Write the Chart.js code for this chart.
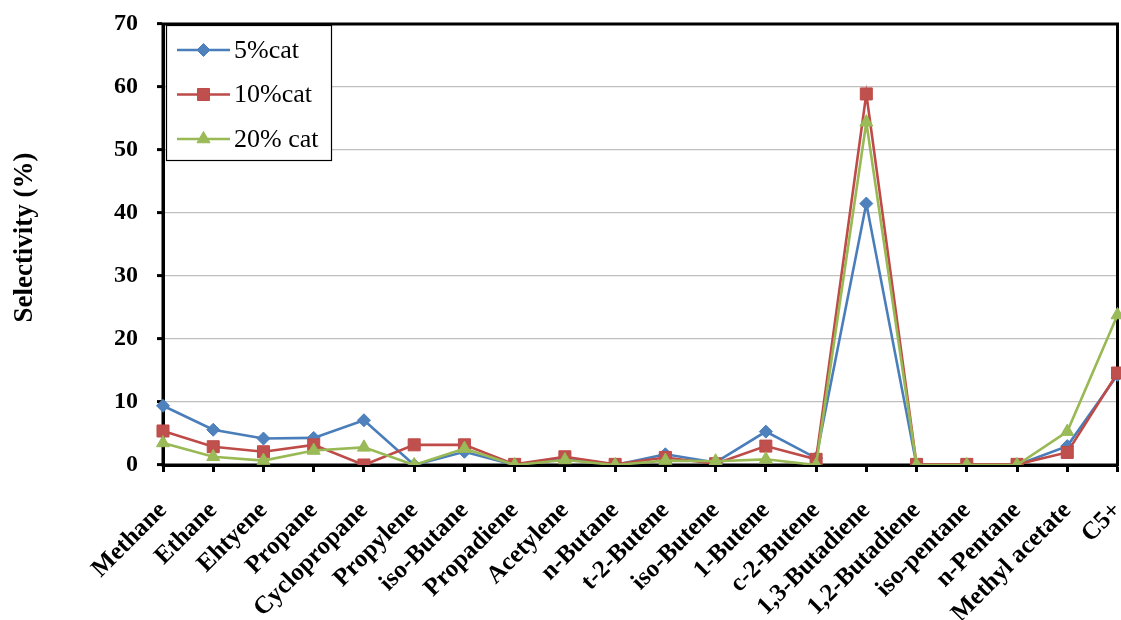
<!DOCTYPE html>
<html>
<head>
<meta charset="utf-8">
<script src="https://cdn.jsdelivr.net/npm/chart.js@4.4.1/dist/chart.umd.min.js"></script>
<style>
  html, body { margin: 0; padding: 0; background: #ffffff; overflow: hidden; }
  #wrap { width: 1121px; height: 620px; position: relative; overflow: hidden; }
  #chart { position: absolute; left: 0; top: 0; }
</style>
</head>
<body>
<div id="wrap"><canvas id="chart" width="1127" height="620"></canvas></div>
<script>
// Product categories along the x axis
const categories = [
  'Methane', 'Ethane', 'Ehtyene', 'Propane', 'Cyclopropane', 'Propylene',
  'iso-Butane', 'Propadiene', 'Acetylene', 'n-Butane', 't-2-Butene',
  'iso-Butene', '1-Butene', 'c-2-Butene', '1,3-Butadiene', '1,2-Butadiene',
  'iso-pentane', 'n-Pentane', 'Methyl acetate', 'C5+'
];

// Selectivity (%) for each catalyst loading
const cat5  = [9.4, 5.6, 4.2, 4.3, 7.1, 0.0, 2.1, 0.0, 1.2, 0.0, 1.7, 0.4, 5.3, 1.1, 41.5, 0.0, 0.0, 0.0, 3.0, 14.3];
const cat10 = [5.4, 2.9, 2.1, 3.2, 0.0, 3.2, 3.2, 0.1, 1.3, 0.1, 1.2, 0.2, 3.0, 0.9, 58.9, 0.1, 0.1, 0.1, 2.0, 14.6];
const cat20 = [3.5, 1.3, 0.7, 2.3, 2.8, 0.0, 2.6, 0.0, 0.8, 0.0, 0.7, 0.6, 0.9, 0.0, 54.4, 0.0, 0.0, 0.0, 5.3, 23.8];

// Series names
const seriesNames = ['5%cat', '10%cat', '20% cat'];

// Y axis range and title
const yMin = 0;
const yMax = 70;
const yStep = 10;
const yTitle = 'Selectivity (%)';

const SERIF = "'Liberation Serif', 'Times New Roman', serif";

// Black frame around the plotting area
const framePlugin = {
  id: 'plotFrame',
  beforeDatasetsDraw(chart) {
    const a = chart.chartArea;
    const ctx = chart.ctx;
    ctx.save();
    ctx.strokeStyle = '#000000';
    ctx.lineWidth = 3;
    ctx.strokeRect(a.left, a.top, a.right - a.left, a.bottom - a.top);
    ctx.restore();
  }
};

// Vertical axis title, set a little above the middle of the plot
const yTitlePlugin = {
  id: 'yTitle',
  afterDraw(chart) {
    const a = chart.chartArea;
    const ctx = chart.ctx;
    ctx.save();
    ctx.translate(25, (a.top + a.bottom) / 2 - 7);
    ctx.rotate(-Math.PI / 2);
    ctx.fillStyle = '#000000';
    ctx.font = 'bold 27px ' + SERIF;
    ctx.textAlign = 'center';
    ctx.textBaseline = 'middle';
    ctx.fillText(yTitle, 0, 0);
    ctx.restore();
  }
};

// Boxed legend in the upper-left corner of the plot
const boxLegendPlugin = {
  id: 'boxLegend',
  afterDraw(chart) {
    const ctx = chart.ctx;
    const a = chart.chartArea;
    const bx = a.left + 3, by = a.top + 1, bw = 165, bh = 135;
    ctx.save();
    ctx.fillStyle = '#ffffff';
    ctx.fillRect(bx, by, bw, bh);
    ctx.strokeStyle = '#000000';
    ctx.lineWidth = 1.2;
    ctx.strokeRect(bx + 0.5, by + 0.5, bw, bh);
    chart.data.datasets.forEach((ds, i) => {
      const cy = by + 25 + i * 44.5;
      const x0 = bx + 11, x1 = bx + 64;
      ctx.strokeStyle = ds.borderColor;
      ctx.lineWidth = ds.borderWidth;
      ctx.beginPath();
      ctx.moveTo(x0, cy);
      ctx.lineTo(x1, cy);
      ctx.stroke();
      ctx.fillStyle = ds.pointBackgroundColor;
      ctx.strokeStyle = ds.pointBorderColor;
      ctx.lineWidth = 1;
      Chart.helpers.drawPoint(ctx, {
        pointStyle: ds.pointStyle,
        radius: ds.pointRadius,
        rotation: 0,
        borderWidth: 1
      }, (x0 + x1) / 2, cy);
      ctx.fillStyle = '#000000';
      ctx.font = '26px ' + SERIF;
      ctx.textAlign = 'left';
      ctx.textBaseline = 'middle';
      ctx.fillText(ds.label, x1 + 4, cy + 1);
    });
    ctx.restore();
  }
};

const data = {
  labels: categories,
  datasets: [
    {
      label: seriesNames[0], data: cat5, order: 2,
      borderColor: '#4A7EBB', backgroundColor: '#4F81BD',
      pointBackgroundColor: '#4F81BD', pointBorderColor: '#4A7EBB',
      pointStyle: 'rectRot', pointRadius: 6.5, pointBorderWidth: 1,
      borderWidth: 2.6, tension: 0
    },
    {
      label: seriesNames[1], data: cat10, order: 1,
      borderColor: '#BE4B48', backgroundColor: '#C0504D',
      pointBackgroundColor: '#C0504D', pointBorderColor: '#BE4B48',
      pointStyle: 'rect', pointRadius: 8.5, pointBorderWidth: 1,
      borderWidth: 2.6, tension: 0
    },
    {
      label: seriesNames[2], data: cat20, order: 0,
      borderColor: '#98B954', backgroundColor: '#9BBB59',
      pointBackgroundColor: '#9BBB59', pointBorderColor: '#98B954',
      pointStyle: 'triangle', pointRadius: 7.5, pointBorderWidth: 1,
      borderWidth: 2.6, tension: 0
    }
  ]
};

new Chart(document.getElementById('chart'), {
  type: 'line',
  data: data,
  plugins: [framePlugin, yTitlePlugin, boxLegendPlugin],
  options: {
    responsive: false,
    animation: false,
    devicePixelRatio: 1,
    layout: { padding: { left: 0, right: 0, top: 24, bottom: 0 } },
    plugins: {
      legend: { display: false },
      tooltip: { enabled: false }
    },
    elements: { point: { hoverRadius: 6 } },
    scales: {
      x: {
        type: 'category',
        offset: false,
        grid: {
          drawOnChartArea: false,
          drawTicks: true,
          tickLength: 7,
          tickWidth: 3,
          tickColor: '#000000'
        },
        border: { display: true, color: '#000000', width: 3 },
        ticks: {
          autoSkip: false,
          maxRotation: 45,
          minRotation: 45,
          padding: 24,
          color: '#000000',
          font: { family: SERIF, size: 25, weight: 'bold' }
        },
        afterFit(scale) {
          scale.height = 155;
          scale.paddingLeft = 0;
          scale.paddingRight = 0;
        }
      },
      y: {
        min: yMin,
        max: yMax,
        grid: {
          color: '#BFBFBF',
          lineWidth: 1.2,
          drawTicks: true,
          tickLength: 6,
          tickWidth: 3,
          tickColor: '#000000'
        },
        border: { display: true, color: '#000000', width: 3 },
        ticks: {
          stepSize: yStep,
          padding: 19,
          color: '#000000',
          font: { family: SERIF, size: 24, weight: 'bold' }
        },
        afterFit(scale) {
          scale.width = 163;
          scale.paddingTop = 0;
          scale.paddingBottom = 0;
        }
      }
    }
  }
});
</script>
</body>
</html>
